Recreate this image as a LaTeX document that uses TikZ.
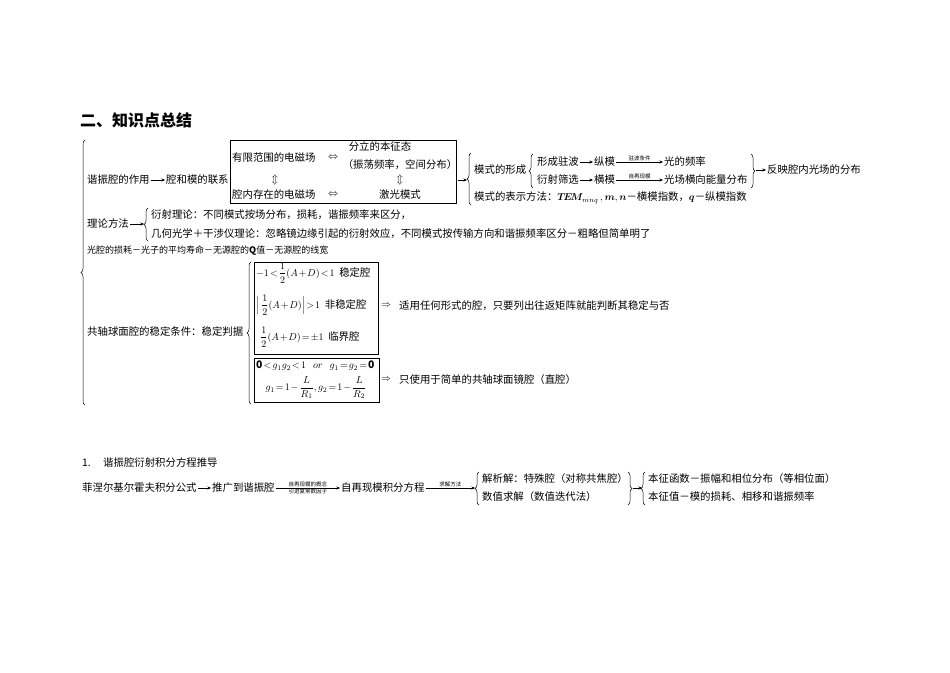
\documentclass[tikz,border=0pt]{standalone}
\usepackage{amsmath}
\usepackage{bm}
\usepackage{fontspec}
\setmainfont{Noto Sans CJK SC}
\usetikzlibrary{decorations.pathreplacing,arrows.meta}
\newcommand\bodyf{\fontsize{10.4}{12}\selectfont}
\newcommand\smallbodyf{\fontsize{9}{11}\selectfont}
\newcommand\smallf{\fontsize{5.5}{6}\selectfont}
\newcommand\headf{\fontsize{16}{18}\selectfont\bfseries}
\newcommand\tightmath{\thickmuskip=2mu\medmuskip=1.5mu}
\begin{document}
\begin{tikzpicture}[x=1pt,y=-1pt,
 txt/.style={anchor=west,inner sep=0pt,font=\bodyf},
 ctxt/.style={anchor=center,inner sep=0pt,font=\bodyf},
 lbl/.style={inner sep=0.8pt,font=\smallf},
 arr/.style={-{Stealth[length=3.5pt,width=3pt]},line width=0.5pt,shorten <=1pt,shorten >=1pt},
 brc/.style={decorate,decoration={brace,amplitude=4pt},line width=0.5pt},
 frame/.style={draw,line width=0.8pt,inner sep=0pt,anchor=north west},
 sframe/.style={draw,line width=1.3pt,inner sep=0pt,anchor=north west}]
\useasboundingbox (0,0) rectangle (950,672);
\fill[white] (0,0) rectangle (950,672);

% heading
\node[anchor=west,inner sep=0pt,font=\headf] (head) at (80,120) {二、知识点总结};

% big left brace
\draw[brc] (85,405) -- (85,140);

% row 1
\node[txt] (r1a) at (87,180) {谐振腔的作用};
\node[txt] (r1b) at (166,180) {腔和模的联系};
\draw[arr] (r1a) -- (r1b);

\node[frame,minimum width=226pt,minimum height=63pt] (box1) at (230,140) {};
\node[txt] (f1) at (232,158) {有限范围的电磁场};
\node[ctxt] (e1) at (333,158) {$\Leftrightarrow$};
\node[ctxt] (d1) at (380,147) {分立的本征态};
\node[ctxt] (d2) at (400,165) {（振荡频率，空间分布）};
\node[ctxt] (u1) at (275,180) {$\Updownarrow$};
\node[ctxt] (u2) at (400,180) {$\Updownarrow$};
\node[txt] (f2) at (232,195) {腔内存在的电磁场};
\node[ctxt] (e2) at (333,195) {$\Leftrightarrow$};
\node[ctxt] (lm) at (400,195) {激光模式};

\coordinate (c1) at (468,180);
\draw[arr] (box1.east |- c1) -- (c1);
\draw[brc] (471,205) -- (471,153);

\node[txt] (mf) at (474,170) {模式的形成};
\draw[brc] (533,188) -- (533,154);
\node[txt] (m1) at (537,162) {形成驻波};
\node[txt] (m2) at (594,162) {纵模};
\node[txt] (m3) at (664,162) {光的频率};
\draw[arr] (m1) -- (m2);
\draw[arr] (m2) -- node[lbl,above]{驻波条件} (m3);
\node[txt] (n1) at (537,180) {衍射筛选};
\node[txt] (n2) at (594,180) {横模};
\node[txt] (n3) at (664,180) {光场横向能量分布};
\draw[arr] (n1) -- (n2);
\draw[arr] (n2) -- node[lbl,above]{自再现模} (n3);
\draw[brc] (751,154) -- (751,188);
\coordinate (c2) at (755,170);
\node[txt] (refl) at (767,170) {反映腔内光场的分布};
\draw[arr] (c2) -- (refl);
\node[txt] (rep) at (474,198) {模式的表示方法：$\bm{T\!E\!M}_{mnq}\,,\bm{m},\bm{n}$－横模指数，$\bm{q}$－纵模指数};

% row 2
\node[txt] (th) at (87,224) {理论方法};
\coordinate (c3) at (145,224);
\draw[arr] (th) -- (c3);
\draw[brc] (148,241) -- (148,208);
\node[txt] (t1) at (151,215) {衍射理论：不同模式按场分布，损耗，谐振频率来区分，};
\node[txt] (t2) at (151,234) {几何光学＋干涉仪理论：忽略镜边缘引起的衍射效应，不同模式按传输方向和谐振频率区分－粗略但简单明了};

% row 3
\node[txt,font=\smallbodyf] (loss) at (87,251) {光腔的损耗－光子的平均寿命－无源腔的\textbf{Q}值－无源腔的线宽};

% row 4
\node[txt] (stab) at (87,332) {共轴球面腔的稳定条件：稳定判据};
\draw[brc] (251,404) -- (251,262);
\node[sframe,minimum width=124pt,minimum height=92pt] (box2) at (254,262) {};
\node[txt] (s1) at (256,273) {$\tightmath -1<\dfrac{1}{2}(A+D)<1$\ \ 稳定腔};
\node[txt] (s2) at (256,305) {$\tightmath \Bigl|\,\dfrac{1}{2}(A+D)\Bigr|>1$\ \ 非稳定腔};
\node[txt] (s3) at (260,337) {$\tightmath \dfrac{1}{2}(A+D)=\pm1$\ \ 临界腔};
\node[txt] (imp1) at (381,306) {$\Rightarrow$};
\node[txt] (app1) at (399,306) {适用任何形式的腔，只要列出往返矩阵就能判断其稳定与否};

\node[sframe,minimum width=125pt,minimum height=44pt] (box3) at (254,358) {};
\node[txt] (g1) at (256,366) {$\tightmath \mathbf{0}<g_1g_2<1\ \ \ or\ \ \ g_1=g_2=\mathbf{0}$};
\node[ctxt] (g2) at (316,388) {$\tightmath g_1=1-\dfrac{L}{R_1},g_2=1-\dfrac{L}{R_2}$};
\node[txt] (imp2) at (381,380) {$\Rightarrow$};
\node[txt] (app2) at (399,380) {只使用于简单的共轴球面镜腔（直腔）};

% section 1
\node[txt] (secn) at (82,463) {1.};
\node[txt] (sect) at (103,463) {谐振腔衍射积分方程推导};

\node[txt] (b1) at (82,488) {菲涅尔基尔霍夫积分公式};
\node[txt] (b2) at (212,488) {推广到谐振腔};
\node[txt] (b3) at (341,488) {自再现模积分方程};
\draw[arr] (b1) -- (b2);
\draw[arr] (b2) -- node[lbl,above]{自再现模的概念} node[lbl,below]{引进复常数因子} (b3);
\coordinate (c4) at (476,488);
\draw[arr] (b3) -- node[lbl,above]{求解方法} (c4);
\draw[brc] (479,505) -- (479,472);
\node[txt] (p1) at (482,479) {解析解：特殊腔（对称共焦腔）};
\node[txt] (p2) at (482,497) {数值求解（数值迭代法）};
\draw[brc] (628,472) -- (628,505);
\coordinate (c5) at (632,488);
\coordinate (c6) at (643,488);
\draw[arr] (c5) -- (c6);
\draw[brc] (645,505) -- (645,472);
\node[txt] (q1) at (648,479) {本征函数－振幅和相位分布（等相位面）};
\node[txt] (q2) at (648,497) {本征值－模的损耗、相移和谐振频率};
\end{tikzpicture}
\end{document}
